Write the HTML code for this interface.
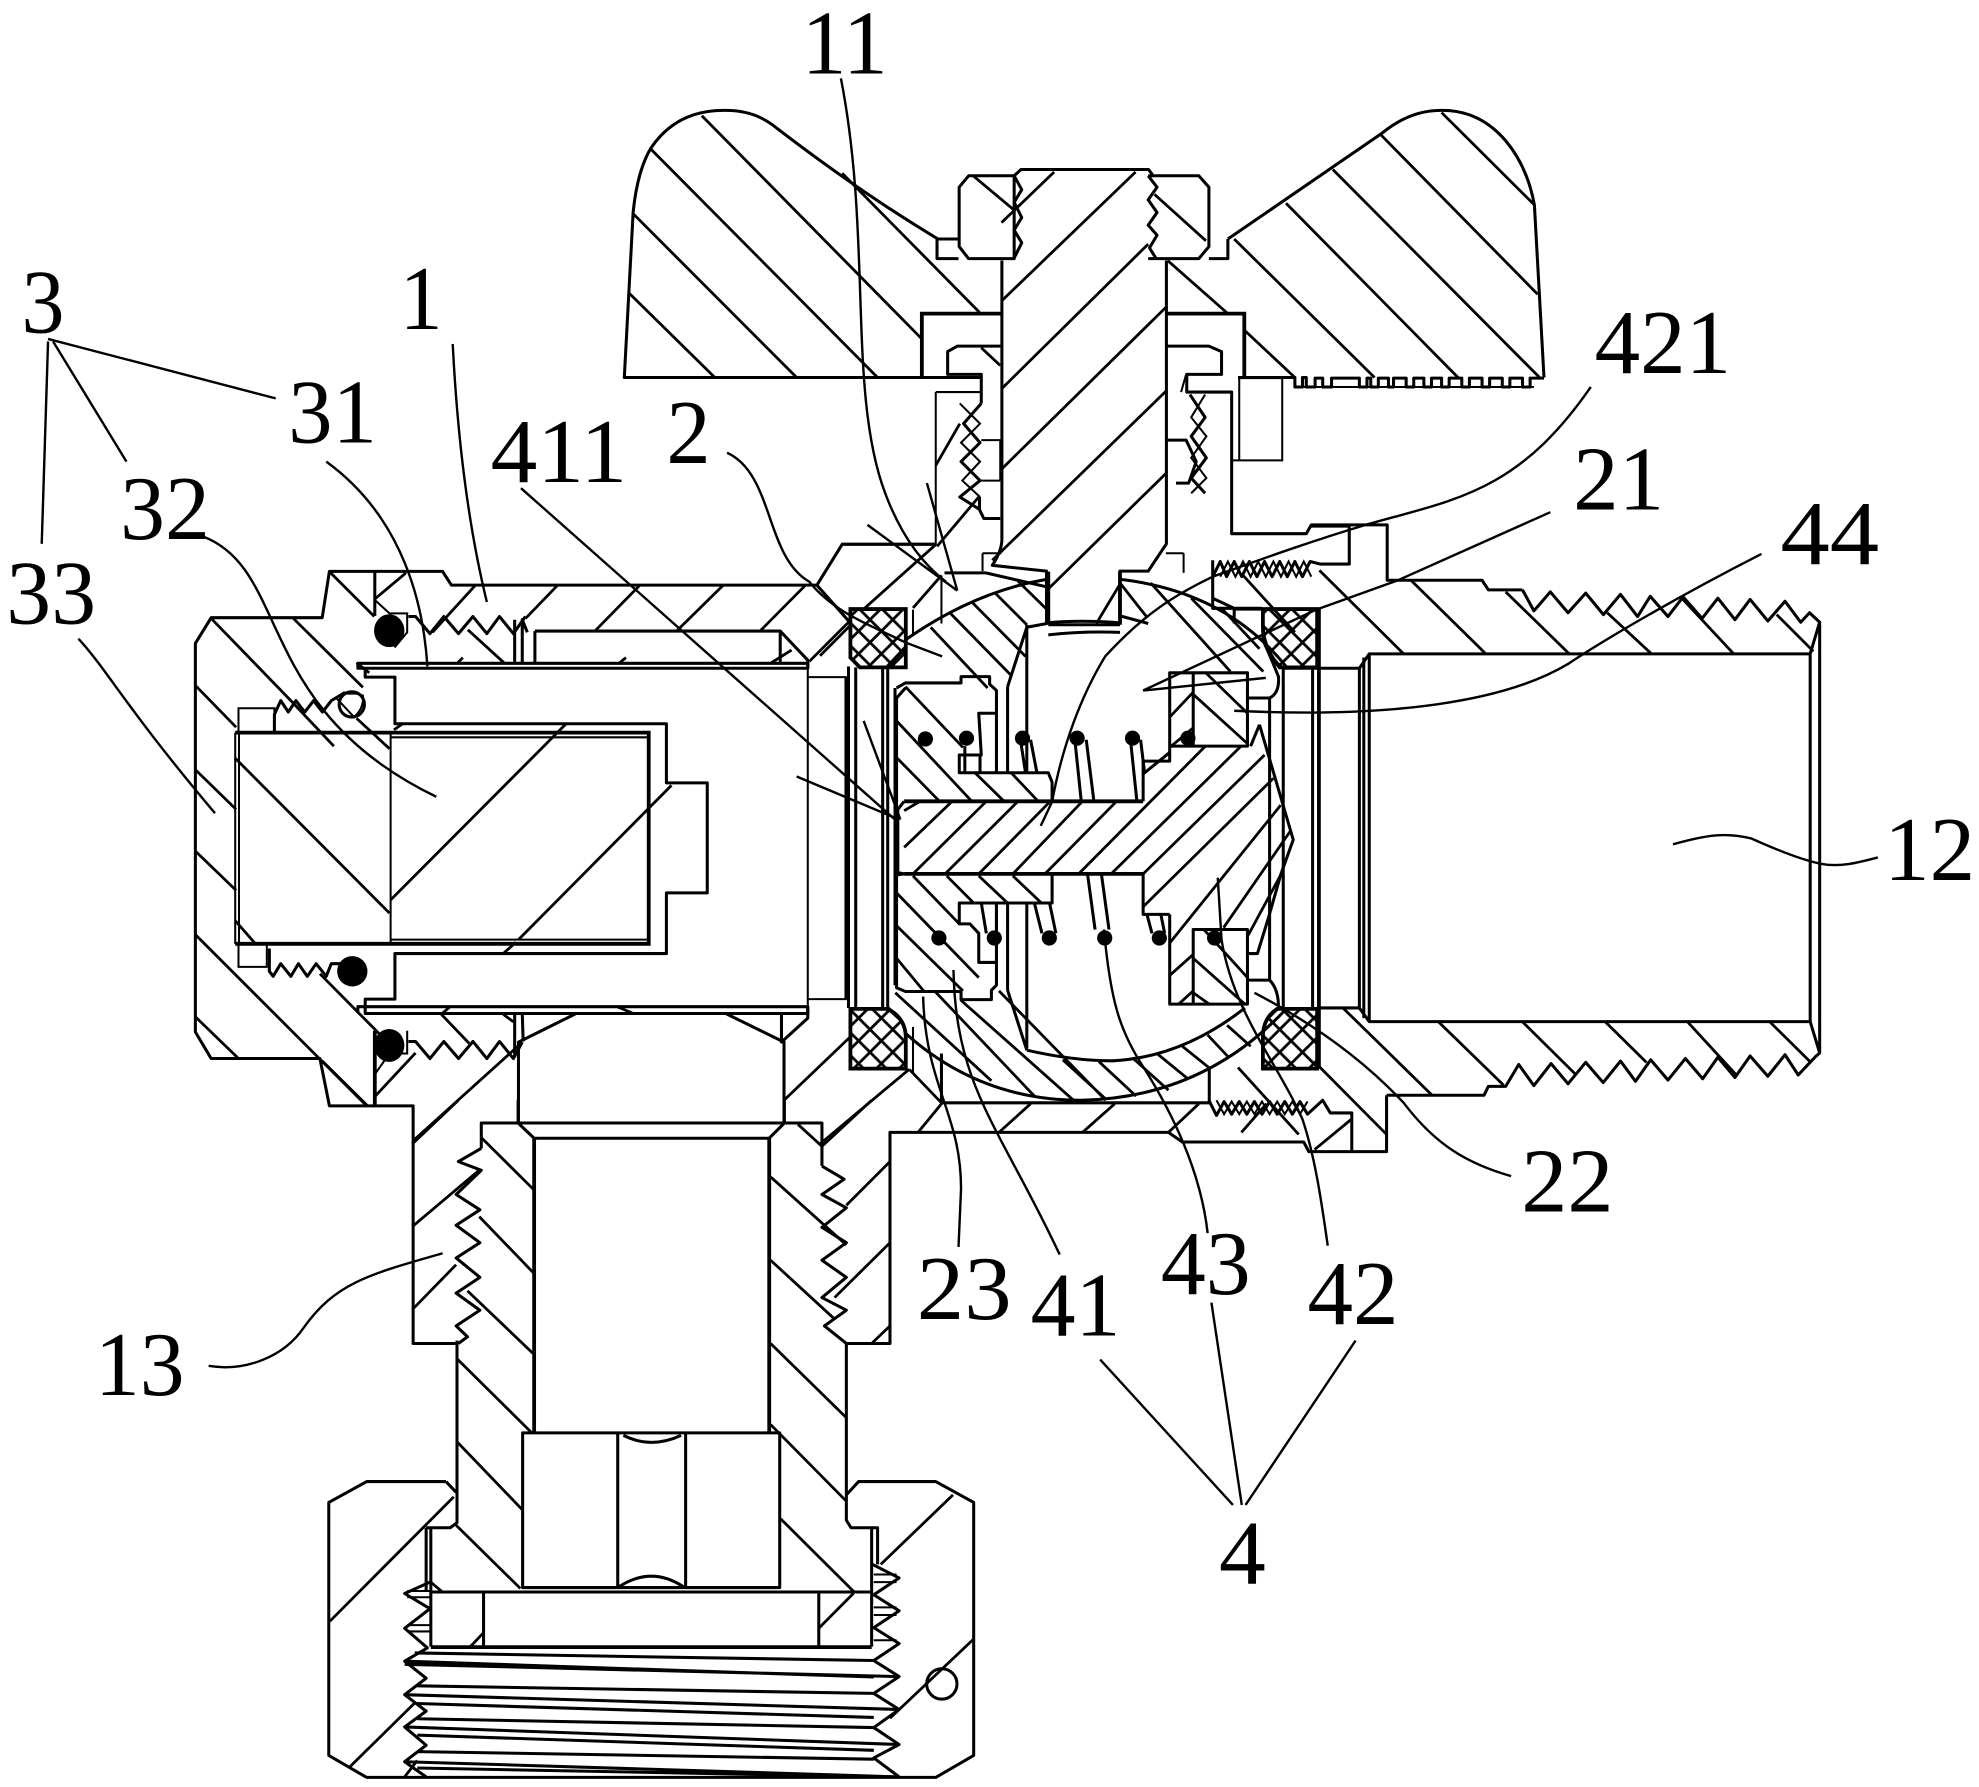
<!DOCTYPE html>
<html><head><meta charset="utf-8"><style>
html,body{margin:0;padding:0;background:#fff}
svg{display:block}
.a{fill:none;stroke:#000;stroke-width:2.4;stroke-linejoin:round}
.h{fill:none;stroke:#000;stroke-width:2.2}
.t{fill:none;stroke:#000;stroke-width:1.6}
.k{fill:none;stroke:#000;stroke-width:3}
.l{fill:none;stroke:#000;stroke-width:1.9}
text{font-family:"Liberation Serif",serif;font-size:72px;fill:#000}
</style></head><body>
<svg width="1979" height="1787" viewBox="0 0 1565 1413" preserveAspectRatio="none" xmlns="http://www.w3.org/2000/svg">
<defs>
<pattern id="x" width="18" height="18" patternUnits="userSpaceOnUse" patternTransform="translate(4 4)">
<path d="M0 0L18 18M18 0L0 18" stroke="#000" stroke-width="2.2" fill="none"/>
</pattern>
</defs>
<rect width="1565" height="1413" fill="#fff"/>

<!-- seals -->
<g fill="url(#x)" stroke="#000" stroke-width="3">
<path d="M672.5 481.6H716.3V527.7H680L672.5 520Z"/>
<path d="M672.5 797.7H702Q716 805 716.3 820V845H672.5Z"/>
<path d="M998.7 481.6H1041.6V527.7H1012Q998.7 512 998.7 495Z"/>
<path d="M1010 797.7H1041.6V845H998.7V820Q998.7 805 1010 797.7Z"/>
</g>

<!-- knob -->
<path class="a" d="M777 298.5H493.7L500.7 167.8Q504 135 514.8 117Q535 87 572.9 87.3Q595 87 610.7 98.6Q680 152 741.8 189H758.5"/>
<path class="a" d="M971 189L1092.4 105.7Q1115 87 1140 87.3Q1170 87 1190.7 111.3Q1208 132 1213.4 162L1221 298.5"/>
<path class="a" d="M758.5 148L766 139H802V204.5H766L758.5 195Z"/>
<path class="a" d="M908 139H948L956 148V195L948 204.5H908"/>
<path class="a" d="M802 139L807.4 134H908.3L912 139"/>
<path class="a" d="M741 189V204.5H758M971 189V204.5H956"/>
<path class="a" d="M792.3 206V427Q792 436 784.7 447L827.6 451.6V492.5Q855 490 885.6 492.5V451.6H908L922.4 430V206"/>
<path class="a" d="M829 502Q855 499 885.7 500"/>
<path class="k" d="M729 298.5V248H792M922 248H984V298"/>
<path class="a" d="M792 273.7H757L749.4 278V296H776V319M774.6 393V403L778 410H791"/>
<path class="a" d="M923 273.7H956L966 278V296H938.5V310H974V422H1033L1037 415H1097V458.8H1172L1177 466.4H1204"/>
<path class="a" d="M979 298.5H1024V306H1030V298.5H1033V306H1040V299H1046V306H1053V299H1075V306H1081V299H1084V306H1090V299H1098V306H1102V299H1112V306H1118V299H1126V306H1132V299H1140V306H1146V299H1156V306H1162V299H1172V306H1178V299H1188V306H1194V299H1204V306H1210V299H1221"/>
<path class="t" d="M980 299H1014V364H974M980 299V364M1024 306H1213"/>
<path class="t" d="M740 310H776M740 310V430H666L646 462.7M942 310H974M934 310L938 296"/>
<path class="t" d="M777 437.5V451.6M936 437.5V453M777 437.5H792M922 437.5H936"/>

<!-- stem threads -->
<path class="a" d="M776 319L762 335L775 350L760 365L775 380L759 393L775 403"/>
<path class="t" d="M759 319L775 335L760 350L775 365L761 380L775 393"/>
<path class="a" d="M941 312L953 330L942 345L954 362L942 378L953 390"/>
<path class="t" d="M953 312L942 330L954 345L942 362L954 378L942 390"/>
<path class="t" d="M776 348H791V380M775 380H791"/>
<path class="a" d="M923 348H938L946 365L940 382H930"/>
<path class="a" d="M802 139L808 150L802 160L808 172L802 182L808 192L802 204"/>
<path class="a" d="M908 139L915 148L908 158L915 168L908 178L915 186L909 196L914 204"/>

<!-- knob hatch -->
<path class="h" d="M497 231.3L565.3 298.5M500.7 169L630 298.5M514.8 118L694 298.5M555 91.5L729 268M666 137L774.6 247M776 275L791 289M923.4 206L971 248M984 261L1024 298.5M976 189L1087 298.5M1017 160.7L1153 298.5M1054 134L1218 299M1092.4 107L1216 232.7M1140 89L1213.4 162M769.6 139L802.3 166.4M913 153.7L953.7 190.4"/>
<path class="h" d="M833.6 136L792 176M898 136L792 238M908 193L792 307.5M922.4 242.6L792 371M922.4 309L784.7 443M922.4 374L827.6 467M885.6 462L867 493M759 335L740 368M774 393L741 432"/>

<!-- left nut and body -->
<path class="a" d="M296.4 487V451.8H260.5L254.8 488.4H167L154.5 508.7V816L167 837H253L260.5 874.4H326.7V1062.3H362.5"/>
<path class="a" d="M296.4 451.8H350L357 462.7H646L666 430.4H740M646 462.7L672 492"/>
<path class="k" d="M296.4 815V874.4"/>
<path class="a" d="M283 524.5H638.8V528.4H283ZM288.8 528.4V535.4H312.3V572.3H527V619H559.3V706H527V754H312.3V790H288.8V801.4H638.8V796H283V801"/>
<path class="k" d="M186 579.3H513V746.3H186"/>
<path class="t" d="M186 579.3V746.3M189 579V746M308.9 579.3V746.3M308.9 583H513M308.9 743H513"/>
<path class="t" d="M188.6 579V560H217V579M188.6 746V764.5H211V746"/>
<path class="t" d="M638.8 528V800M638.8 535.4H669V790H638.8"/>
<path class="a" d="M423 499H617L638.8 522V528M617 499V524M423 499V524"/>
<path class="a" d="M407 525V490M413 525V490L417 500"/>
<path class="a" d="M410 888.6V824L455 801.7M574.5 801.7L620 824V888.6M413.7 823.5L413 801M407 801V835M618 801V824L638.8 805V796"/>

<!-- threads -->
<path class="a" d="M323 487.5H328.6L340 501L351 487.5L362.6 501L374 487.5L385 501L395 487.5L406 501L415.5 487.5"/>
<path class="a" d="M323 823.5H328.6L340 837L351 823.5L362.6 837L374 823.5L385 837L395 823.5L406 837L413 824"/>
<path class="a" d="M217 579V565L222 554L228 563L234 554L241 563L248 554L255 563L262 554L272 548H282"/>
<path class="t" d="M266 552L280 567Q288 560 287 550L280 548"/>
<circle cx="278.2" cy="557" r="10" class="a"/>
<path class="a" d="M213 750V768L216 772L222 762L230 772L236 762L243 772L250 762L258 772L262 762H272"/>
<circle cx="278.6" cy="768" r="12" fill="#000"/>
<ellipse cx="307.8" cy="498.7" rx="12" ry="13" fill="#000"/>
<ellipse cx="307.8" cy="826.6" rx="12" ry="13" fill="#000"/>
<path class="t" d="M296 474L308 485H322V500L312 512M296 850L308 833H322V815"/>

<!-- left hatch -->
<path class="h" d="M232 489L287 543.5M167 489L230 554M154.5 542L186.7 575M154.5 608.6L186.7 640M154.5 673L186.7 704M154.5 739L289 873.5M154.5 804L188.6 837M186 728L201.8 746M253 770L300 817.5M260.5 452L296 487.5M255 839L290.7 874.4M230 554L264 590M282 568L308 592M186 599.5L308 722M309 711.5L448 572M410 743L531 621M311.5 577L319 572M398 754L408 745"/>
<path class="h" d="M296 474L321 453M342 500L376 462.7M415.6 489L441 462.7M470.4 499L506 462.7M535 499L572 462.7M601 499L637 462.7M640 523L671 492M370 498L398.5 524M282 524L292 532M362 524L366 520M490 524L495 520M610 524L626 514M350 801L356 796M500 801L488 796"/>
<path class="h" d="M326.7 902L412 825M349 802L371 825M296 867.5L328.6 832.6M326 904.6L362.5 870M398 802L406 808"/>

<!-- center body -->
<path class="a" d="M669 535V790M671 527V797M676.7 527.7V797.7M698 527V797.7M702 527V797.7M707.8 544V779"/>
<path class="t" d="M744.5 455V493M744.5 833V872M716 482V527M722 482V502M716 820V845M722 812V848"/>
<path class="a" d="M746.9 453H779.6L827.6 464"/>
<!-- right end of center -->
<path class="a" d="M1004 552V775M1014.8 527V797M1038 527V797M1075 528V797M1078.5 520V805"/>
<path class="k" d="M1043 481V845"/>
<path class="a" d="M1014 528.4H1075L1082.8 517H1431.5V807.8H1082.8L1075 797H1043M1431.5 517L1439 492V832.6L1431.5 807.8M1082.8 517V807.8"/>

<!-- ball -->
<path class="a" d="M716 506Q770 468 828 458M885.7 458Q970 468 1017 527"/>
<path class="a" d="M716 817Q775 870 855 870Q950 868 1015 800"/>
<path class="a" d="M812 830.4Q850 839 880 838.8Q935 836 984.5 797"/>
<path class="a" d="M812 494V612M812 714V829M796.8 543V611M796.8 714V783M796.8 543L812 496L828 493M796.8 783L812 830.4"/>
<path class="k" d="M829 452V494M885.7 452V494"/>
<path class="a" d="M829 494H885.7M885.7 487L908 493"/>
<path class="a" d="M996 573L1022.7 664L1013 691L1003 726L994.4 754H987"/>
<path class="a" d="M987 551.9H1004Q1012 548 1011 535Q1005 520 998.7 506V481.6H976V493M987 775H1004Q1011 782 1011 796"/>
<path class="a" d="M959 443V481H998M959 473L976 481"/>
<path class="a" d="M956.3 845.5V872H744.5V833"/>
<path class="a" d="M716 544L709 552V781L716 784H760V790.4H784V783L788 779V714H758.6V730.5H767L774 738V761H788"/>
<path class="a" d="M709 544L716 540H760V535H782.6V541L788 546V611H758.6V597H776L774 564H788M758.6 611H829L832 618.5V633.6"/>
<path class="k" d="M715 633.6H904M715 691H904"/>
<path class="a" d="M715 633.6L710 640V690L715 691M708 692L715 691"/>
<path class="a" d="M758.6 714H832V691"/>
<path class="a" d="M904 633.6V601.8H925V532H986.5V590H925M943.6 532V590M904 691V723H925M925 723V794H986.5V735H943.6V794"/>
<path class="a" d="M904 612L925 595"/>
<path class="a" d="M996 573L989 590"/>

<!-- spring dots & coils -->
<g fill="#000">
<circle cx="731.8" cy="584.3" r="6"/><circle cx="764.3" cy="583.7" r="6"/><circle cx="808.6" cy="583.7" r="6"/><circle cx="851.8" cy="583.7" r="6"/><circle cx="895.6" cy="583.7" r="6"/><circle cx="939.4" cy="583.7" r="6"/>
<circle cx="742.5" cy="741.7" r="6"/><circle cx="786.3" cy="741.7" r="6"/><circle cx="829.8" cy="741.7" r="6"/><circle cx="873.6" cy="741.7" r="6"/><circle cx="916.8" cy="741.7" r="6"/><circle cx="960.5" cy="741.7" r="6"/>
</g>
<path class="a" d="M807 585L811 611M815 585L820 611M850 585L855 633M859 585L865 633M894 585L899 633M902 585L905 610M775 597V611M763 590V611"/>
<path class="a" d="M818 714L824 738M830 714L835 738M860 691L866 735M871 691L877 735M907 723L911 738M918 723L921 738M776 714L780 738M788 714V735"/>

<!-- center hatch -->
<path class="h" d="M709 570L768.5 633.6M709 599L743 633.6M716 543L761.5 591M771 611L794 633.6M799.6 611L821 633.6M736 496L781 544M751.6 485L799.6 534M768.5 476L811 519M787 469L812 494M805 459.5L828 482M885.7 461L907 488M910 461L973 531M942 473L999 531M966 481L996 513M943.6 549L986.5 588M953.5 532L986.5 564M925 567L943.6 547.3M925 591L943 576"/>
<path class="h" d="M715 670L753 633.6M715 641L727.6 633.6M722 691L780 633.6M747.4 691L805 633.6M774 691L830.6 633.6M801 691L856 633.6M826.4 691L883 633.6M853 691L953.5 589.7M878.7 691L981.7 589.7M904 691L1000 597M904 717L1007 615.4M925 745.6L1012.8 636.6M967.6 733.5L1021 656.3M987 739.6L1014 689.6"/>
<path class="h" d="M722 692.6L758.6 730.5M709 706L774 773M709 732L761.5 783.5M709 757.7L730.4 783.5M748.7 692.6L770 714M774 692.6L796.8 714M801 692.6L823.6 714"/>
<path class="h" d="M708 785L784 854.6M739 783.5L818 866.7M760 791L849 870M790 783.5L874.4 870M840.5 838L874.4 869M869 839.4L898.4 866.7M895.6 836.4L924 862M915.4 833.4L939.4 853M935 827.3L957.7 845.5M955 818.3L972 836.4M970.4 810.7L989 827.3"/>
<path class="h" d="M943.6 757.7L984.5 794M952 735L986.5 773M925 771.3L943.6 754.7M932 794L943.6 783.5M943.6 785L956.3 794"/>
<path class="h" d="M684 480.7L740 430.6M648.5 518.5L672.5 494.4M722 480.7L744.5 455M620 870L672.5 819.8M648.5 904.5L719 845.5M719 845.5L744.5 872M726 895.4L744.5 872.8M790 895.4L815 872.8M856 895.4L881.5 872.8M924 895.4L948 872.8"/>
<path class="k" d="M702 527L716 512M702 797L712 806"/>
<path class="h" d="M981.7 453.5L1024 500M1042.4 842.5L1096.5 897M979 844L1027 897M981.7 895.4L1001.5 872.8M1039.6 909L1068.7 885"/>

<!-- top & bottom center threads -->
<path class="a" d="M959 456L965 444L970 456L976 444L982 456L988 444L994 456L1000 444L1006 456L1012 444L1018 456L1024 444L1030 456L1036 444L1044 446H1067V416H1037"/>
<path class="t" d="M965 456L971 444L977 456L983 444L989 456L995 444L1001 456L1007 444L1013 456L1019 444L1025 456L1031 444L1037 456"/>
<path class="a" d="M956 870L962 882L968 871L974 881L980 871L986 881L992 871L998 881L1004 871L1010 881L1016 871L1022 881L1028 871L1034 881L1046 870L1052 880H1069V910.6H1035L1031 903H935L924 895.4H703.8V1062.3H669.3"/>
<path class="t" d="M962 870L968 881L974 871L980 881L986 871L992 881L998 871L1004 881L1010 871L1016 881L1022 871L1028 881L1034 871"/>
<path class="a" d="M1096.5 866V910.6H1069M1096.5 866H1173.6L1177 859H1190.7L1201 841.7L1213 858.4L1226.6 841L1240 857L1254 840L1267.8 856L1281.5 839L1293.4 855L1305.4 838L1319 854L1332.8 837L1346.5 853L1358.5 836L1372 852L1384 835L1398 851L1411.6 834L1422 850L1435.6 835.6L1439 832.6"/>
<path class="a" d="M1204 466.4L1213 483L1226 468L1240 484.5L1254 469L1268 486L1281.5 470L1295 487.5L1305 471.5L1319 487.5L1331 472L1346 489L1358.5 473L1372 490L1384 474L1398 491L1411.6 475.4L1424 492L1431 484.5L1439 492"/>
<path class="h" d="M1043.4 451L1110 517M1116 459L1175 517M1190.7 468L1241 517M1271 484.5L1306 517M1329.4 472.4L1371 517M1405 486L1434 515M1062 797L1132.5 866M1137.6 808L1189 858M1204 808L1245.5 849M1269.5 808L1302 840M1334.5 808L1374 851M1399.6 808L1432 840"/>

<!-- lower body -->
<path class="a" d="M380.6 908V888H650V922M409.7 888V870M620.3 888V870"/>
<path class="k" d="M422.4 900V1133M608.3 900V1133"/>
<path class="a" d="M422.4 900H608.3M409.7 888L422.4 900M620.3 888L608.3 900"/>
<path class="a" d="M380.6 908L362.5 918.5L380.6 925.4L360.7 944.5L379.5 956.6L360.7 968.8L379.5 982.6L360.7 994.7L379.5 1010L360.7 1022.5L379.5 1036L360.7 1048.4L369.7 1057L362.5 1062.3"/>
<path class="a" d="M650 922L667.5 932.4L650 944.5L669.3 955L650 970.5L669.3 982.6L650 996.5L669.3 1010L650 1026L669.3 1036L652 1048.4L669.3 1062.3"/>
<path class="a" d="M361.4 1060V1204L356 1208H337M669.3 1062V1202L673 1208H694V1237"/>
<path class="a" d="M413.3 1133H616.6V1255.3H413.3Z"/>
<path class="a" d="M488.5 1133V1255M542.2 1133V1255M493 1135Q515 1146 538.6 1135M489.6 1254.6Q515 1238 540.4 1254.6"/>
<path class="a" d="M340.7 1258.8H689.3M382.4 1259V1302M647.5 1259V1302M340.7 1208V1302M337 1208V1258M689.3 1208V1302"/>
<path class="k" d="M340.7 1302.4H689.3"/>
<path class="a" d="M352.7 1171.5H290L260 1188V1388L290 1405.4H740L770 1388V1188L740 1171.5H679L669.3 1182M352.7 1171.5L360.7 1180"/>
<circle cx="744.8" cy="1331.5" r="12" class="a"/>
<path class="h" d="M380.6 899.5L422.4 941M379 962L422.4 1007M369.7 1020.7L422.4 1071M361.4 1074.4L420.6 1133M361.4 1140L413.3 1194M360.7 1206L411.5 1256M340.7 1251L349.8 1258.8M631 889L650 906.4M609.4 930.6L669.3 984.4M609.4 996.5L660 1043M609.4 1062.3L669.3 1121M609.4 1126.4L669.3 1187M617.4 1201L675.5 1258.8"/>
<path class="h" d="M326 970L378.8 925.4M326 1035.6L360.7 1000M650 906.4L689.3 870M669.3 953L703.8 918.5M660 1026L703.8 982.6M689.3 1062.3L703.8 1048.4M371.6 1302.4L382.4 1291M647.5 1287.5L675 1259.8M260.8 1282L358.8 1183.6M277 1396.7L328 1346.5M320 1405L330 1392M696.5 1237L753.6 1182M703.8 1358.6L770 1296"/>

<!-- bottom threads -->
<path class="a" d="M340 1251L320 1260L340 1272L320 1287.5L338 1303L320 1313.5L337 1327L320 1340L337 1353L320 1365.5L337 1380L320 1393L337 1405"/>
<path class="a" d="M690 1237L711 1247.7L691 1261L711 1273.7L691 1287L711 1299.6L691 1313L711 1325.7L691 1339L711 1351.7L691 1366L711 1379.4L691 1390L711 1405"/>
<path class="t" d="M322 1258H340M322 1263H340M322 1285H340M322 1290H340M691 1245H709M691 1251H709M691 1271H709M691 1277H709M691 1297H709"/>
<path class="a" d="M320 1313.5L691 1326M328 1307L691 1313M320 1316L711 1325.7M320 1340L711 1351.7M330 1333L691 1339M330 1347L691 1358M320 1365.5L711 1379.4M330 1359L691 1366M330 1372L691 1384M320 1393L711 1405M330 1385L691 1391M330 1398L700 1405"/>

<!-- leaders -->
<g class="l">
<path class="l" d="M38 268L218 315M42 270L100 365M38 270L33 430"/>
<path class="l" d="M358 272Q364 390 385 476"/>
<path class="l" d="M258 365C320 410 335 480 338 527"/>
<path class="l" d="M160 424C230 450 200 560 345 630"/>
<path class="l" d="M62 505C85 530 100 560 170 643"/>
<path class="l" d="M412 386L710 650M630 614L711 648M683 570L712 648"/>
<path class="l" d="M575 358C612 375 605 440 640 460C660 485 690 495 716 508L745 519"/>
<path class="l" d="M665 62C690 190 670 310 700 390C715 430 735 450 748 460M733 382L757 467M686 415L757 467"/>
<path class="l" d="M1258 306C1200 390 1150 395 1080 415C1030 430 990 445 959 456C930 470 905 485 874 519C855 550 840 590 832 634L823 653"/>
<path class="l" d="M1226 405L1105 459L1041 482L904 546L1001 536"/>
<path class="l" d="M1393 438C1330 470 1270 505 1240 525C1190 555 1100 568 976 562"/>
<path class="l" d="M1323 667.6C1350 660 1365 658 1385 663C1405 672 1425 680 1440 683C1455 686 1470 682 1485 678"/>
<path class="l" d="M350 991C290 1008 265 1015 240 1050C225 1072 195 1085 165 1080"/>
<path class="l" d="M992 785C1040 810 1080 840 1110 872C1135 905 1160 920 1195 930"/>
<path class="l" d="M963 694L966 743C975 800 1010 840 1030 885C1040 915 1045 950 1050 985"/>
<path class="l" d="M873 735C878 790 885 815 905 845C930 885 950 930 955 975"/>
<path class="l" d="M754 767C756 860 790 890 838 992"/>
<path class="l" d="M730 788C732 860 760 880 760 940L758 986"/>
<path class="l" d="M870 1075L975 1190M958 1030L982 1190M1072 1060L985 1190"/>
</g>

<!-- labels -->
<text x="634" y="58" textLength="68" lengthAdjust="spacingAndGlyphs">11</text>
<text x="17" y="263" textLength="34" lengthAdjust="spacingAndGlyphs">3</text>
<text x="316" y="260" textLength="34" lengthAdjust="spacingAndGlyphs">1</text>
<text x="228" y="350" textLength="70" lengthAdjust="spacingAndGlyphs">31</text>
<text x="95" y="426" textLength="71" lengthAdjust="spacingAndGlyphs">32</text>
<text x="5" y="493" textLength="71" lengthAdjust="spacingAndGlyphs">33</text>
<text x="388" y="381" textLength="108" lengthAdjust="spacingAndGlyphs">411</text>
<text x="527" y="366" textLength="35" lengthAdjust="spacingAndGlyphs">2</text>
<text x="1261" y="295" textLength="108" lengthAdjust="spacingAndGlyphs">421</text>
<text x="1244" y="403" textLength="72" lengthAdjust="spacingAndGlyphs">21</text>
<text x="1408" y="446" textLength="78" lengthAdjust="spacingAndGlyphs">44</text>
<text x="1490" y="696" textLength="72" lengthAdjust="spacingAndGlyphs">12</text>
<text x="75" y="1103" textLength="71" lengthAdjust="spacingAndGlyphs">13</text>
<text x="1203" y="958" textLength="73" lengthAdjust="spacingAndGlyphs">22</text>
<text x="725" y="1043" textLength="75" lengthAdjust="spacingAndGlyphs">23</text>
<text x="815" y="1056" textLength="71" lengthAdjust="spacingAndGlyphs">41</text>
<text x="918" y="1023" textLength="71" lengthAdjust="spacingAndGlyphs">43</text>
<text x="1034" y="1047" textLength="72" lengthAdjust="spacingAndGlyphs">42</text>
<text x="964" y="1252" textLength="37" lengthAdjust="spacingAndGlyphs">4</text>
</svg>
</body></html>
